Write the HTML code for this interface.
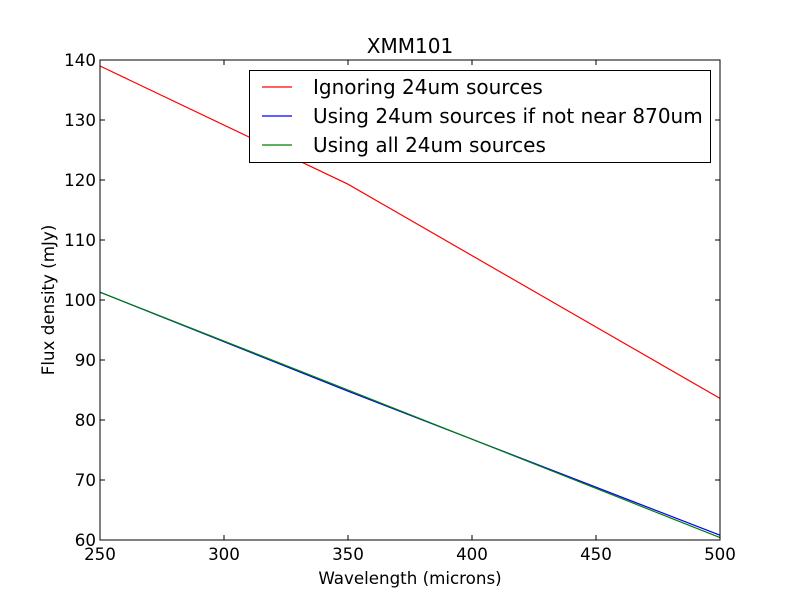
<!DOCTYPE html>
<html><head><meta charset="utf-8"><style>
body{margin:0;background:#fff;}
svg{display:block;font-family:"DejaVu Sans","Liberation Sans",sans-serif;}
</style></head><body>
<svg id="chart" width="800" height="600"></svg>
<script>
const xTicks=[250,300,350,400,450,500];
const yTicks=[60,70,80,90,100,110,120,130,140];
const seriesNames=["Ignoring 24um sources","Using 24um sources if not near 870um","Using all 24um sources"];
const seriesColors=["#ff0000","#0000ff","#008000"];
const wavelengths=[250,350,500];
const redValues=[139.0,119.3,83.6];
const blueValues=[101.3,84.8,60.8];
const greenValues=[101.3,85.0,60.4];
const allValues=[redValues,blueValues,greenValues];

const L=100,R=720,T=60,B=540;
const sx=v=>L+(v-250)/(500-250)*(R-L);
const sy=v=>B-(v-60)/(140-60)*(B-T);
const NS="http://www.w3.org/2000/svg";
const svg=document.getElementById('chart');
function mk(tag,attrs,parent){const e=document.createElementNS(NS,tag);for(const k in attrs)e.setAttribute(k,attrs[k]);(parent||svg).appendChild(e);return e;}

const title=mk('text',{x:410,y:53,'text-anchor':'middle','font-size':20});
title.textContent='XMM101';



const lines=mk('g',{});


allValues.forEach((vals,i)=>{
  const p=mk('polyline',{points:vals.map((v,j)=>sx(wavelengths[j])+','+sy(v)).join(' '),fill:'none',stroke:seriesColors[i],'stroke-width':1.2},lines);
  
  
});

const frame=mk('rect',{x:L,y:T,width:R-L,height:B-T,fill:'none',stroke:'#000','stroke-width':1});



xTicks.forEach(t=>{
  const x=sx(t);
  mk('line',{x1:x,y1:B,x2:x,y2:B-5,stroke:'#000'});
  mk('line',{x1:x,y1:T,x2:x,y2:T+5,stroke:'#000'});
  const tx=mk('text',{x:x,y:B+20,'text-anchor':'middle','font-size':16.7});
  tx.textContent=t;
  
  
});
yTicks.forEach(t=>{
  const y=sy(t);
  mk('line',{x1:L,y1:y,x2:L+5,y2:y,stroke:'#000'});
  mk('line',{x1:R,y1:y,x2:R-5,y2:y,stroke:'#000'});
  const tx=mk('text',{x:L-4,y:y+6,'text-anchor':'end','font-size':16.7});
  tx.textContent=t;
  
  
});

const xl=mk('text',{x:410,y:584,'text-anchor':'middle','font-size':16.7});
xl.textContent='Wavelength (microns)';


const yl=mk('text',{x:0,y:0,'text-anchor':'middle','font-size':16.7,transform:'translate(54,300) rotate(-90)'});
yl.textContent='Flux density (mJy)';



const leg=mk('g',{});


mk('rect',{x:249.5,y:70.5,width:461,height:92,fill:'#fff',stroke:'#000'},leg);
seriesNames.forEach((n,i)=>{
  const y=87+i*29;
  const g=mk('g',{},leg);
  
  
  mk('line',{x1:262,y1:y,x2:292,y2:y,stroke:seriesColors[i],'stroke-width':1.2},g);
  const t=mk('text',{x:313,y:y+7,'font-size':20},g);
  t.textContent=n;
});
</script>
</body></html>
